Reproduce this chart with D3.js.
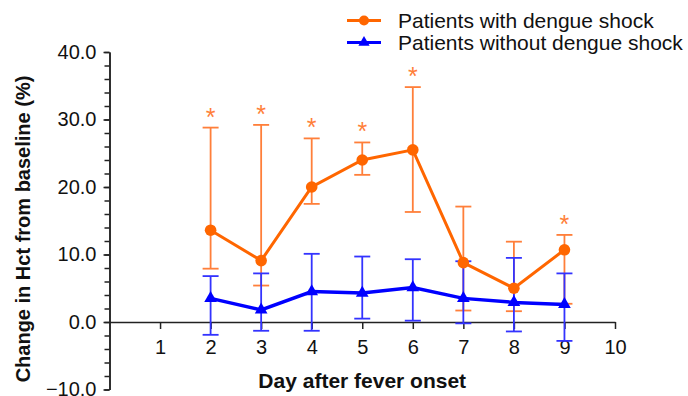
<!DOCTYPE html>
<html><head><meta charset="utf-8">
<script src="https://cdn.jsdelivr.net/npm/d3@7"></script>
<style>body{margin:0;background:#fff}svg{display:block;font-family:"Liberation Sans",Arial,sans-serif}</style>
</head><body>
<svg id="c" width="688" height="396"></svg>
<script>
const days = [2,3,4,5,6,7,8,9];
const shockMean = [13.6, 9.1, 20.0, 24.0, 25.5, 8.8, 5.0, 10.7];
const shockUpper = [28.8, 29.2, 27.2, 26.6, 34.8, 17.1, 11.9, 12.9];
const shockLower = [7.9, 5.4, 17.5, 21.8, 16.3, 1.7, 1.6, 2.7];
const shockSignif = [true, true, true, true, true, false, false, true];
const noShockMean = [3.5, 1.8, 4.5, 4.3, 5.1, 3.5, 2.9, 2.6];
const noShockUpper = [6.8, 7.2, 10.1, 9.7, 9.3, 9.0, 9.5, 7.2];
const noShockLower = [-1.9, -1.3, -1.3, 0.5, 0.2, -0.2, -1.4, -2.8];
const xTicks = [1,2,3,4,5,6,7,8,9,10];
const yTicks = [-10,0,10,20,30,40];
const seriesNames = ["Patients with dengue shock","Patients without dengue shock"];

const svg = d3.select("#c");
const x = d3.scaleLinear().domain([0,10]).range([109.5,615]);
const y = d3.scaleLinear().domain([-10,40]).range([389.5,52]);

const ORANGE = "#ff6600", ORANGE_EB = "#ff7f3a";
const BLUE = "#0000ff", BLUE_EB = "#3333ff";

// Y axis
const yAxis = svg.append("g").attr("transform",`translate(${x(0)},0)`);
yAxis.call(d3.axisLeft(y).tickValues(d3.range(-10,40.01,2)).tickFormat("").tickSize(5).tickSizeOuter(0));
yAxis.append("g").call(d3.axisLeft(y).tickValues(yTicks).tickFormat(d3.format(".1f")).tickSize(6).tickPadding(7).tickSizeOuter(0));
yAxis.selectAll("path,line").attr("stroke","#222").attr("stroke-width",1.5);
yAxis.selectAll("text").attr("font-size",20).attr("fill","#111").attr("font-family","Liberation Sans, Arial");

// X axis at y=0
const xAxis = svg.append("g").attr("transform",`translate(0,${y(0)})`);
xAxis.call(d3.axisBottom(x).tickValues(xTicks).tickSize(7).tickPadding(11).tickSizeOuter(0));
xAxis.selectAll("path,line").attr("stroke","#222").attr("stroke-width",1.5);
xAxis.selectAll("text").attr("font-size",20).attr("fill","#111").attr("font-family","Liberation Sans, Arial");

// Axis titles
svg.append("text").attr("transform",`translate(30,229) rotate(-90)`)
  .attr("text-anchor","middle").attr("font-weight","bold").attr("font-size",20).attr("fill","#111")
  .text("Change in Hct from baseline (%)");
svg.append("text").attr("x",x(5)).attr("y",388).attr("text-anchor","middle")
  .attr("font-weight","bold").attr("font-size",21).attr("fill","#111").text("Day after fever onset");

function errorBars(mean, lo, hi, color){
  const g = svg.append("g").attr("stroke",color).attr("stroke-width",1.8).attr("fill","none");
  days.forEach((d,i)=>{
    const cx = x(d);
    g.append("line").attr("x1",cx).attr("x2",cx).attr("y1",y(lo[i])).attr("y2",y(hi[i]));
    g.append("line").attr("x1",cx-8).attr("x2",cx+8).attr("y1",y(lo[i])).attr("y2",y(lo[i]));
    g.append("line").attr("x1",cx-8).attr("x2",cx+8).attr("y1",y(hi[i])).attr("y2",y(hi[i]));
  });
}
errorBars(shockMean, shockLower, shockUpper, ORANGE_EB);
errorBars(noShockMean, noShockLower, noShockUpper, BLUE_EB);

const line = d3.line().x((d,i)=>x(days[i])).y(d=>y(d));
svg.append("path").datum(shockMean).attr("d",line).attr("fill","none").attr("stroke",ORANGE).attr("stroke-width",3);
svg.append("g").selectAll("circle").data(shockMean).join("circle")
  .attr("cx",(d,i)=>x(days[i])).attr("cy",d=>y(d)).attr("r",5.8).attr("fill",ORANGE);

svg.append("path").datum(noShockMean).attr("d",line).attr("fill","none").attr("stroke",BLUE).attr("stroke-width",3.5);
const tri = d3.symbol().type(d3.symbolTriangle).size(70);
svg.append("g").selectAll("path").data(noShockMean).join("path")
  .attr("d",tri).attr("transform",(d,i)=>`translate(${x(days[i])},${y(d)})`).attr("fill",BLUE);

// significance asterisks
svg.append("g").selectAll("text").data(days.filter((d,i)=>shockSignif[i])).join("text")
  .attr("x",d=>x(d)).attr("y",d=>y(shockUpper[days.indexOf(d)])-2)
  .attr("text-anchor","middle").attr("font-size",25).attr("fill",ORANGE_EB).text("*");

// Legend
const leg = svg.append("g");
[[ORANGE,"circle"],[BLUE,"tri"]].forEach(([c,m],i)=>{
  const ly = 20.5 + i*22;
  leg.append("line").attr("x1",347).attr("x2",381).attr("y1",ly).attr("y2",ly).attr("stroke",c).attr("stroke-width",3);
  if(m==="circle") leg.append("circle").attr("cx",364).attr("cy",ly).attr("r",5).attr("fill",c);
  else leg.append("path").attr("d",d3.symbol().type(d3.symbolTriangle).size(55)).attr("transform",`translate(364,${ly})`).attr("fill",c);
  leg.append("text").attr("x",398).attr("y",ly+7).attr("font-size",21).attr("fill","#111").text(seriesNames[i]);
});
</script>
</body></html>
